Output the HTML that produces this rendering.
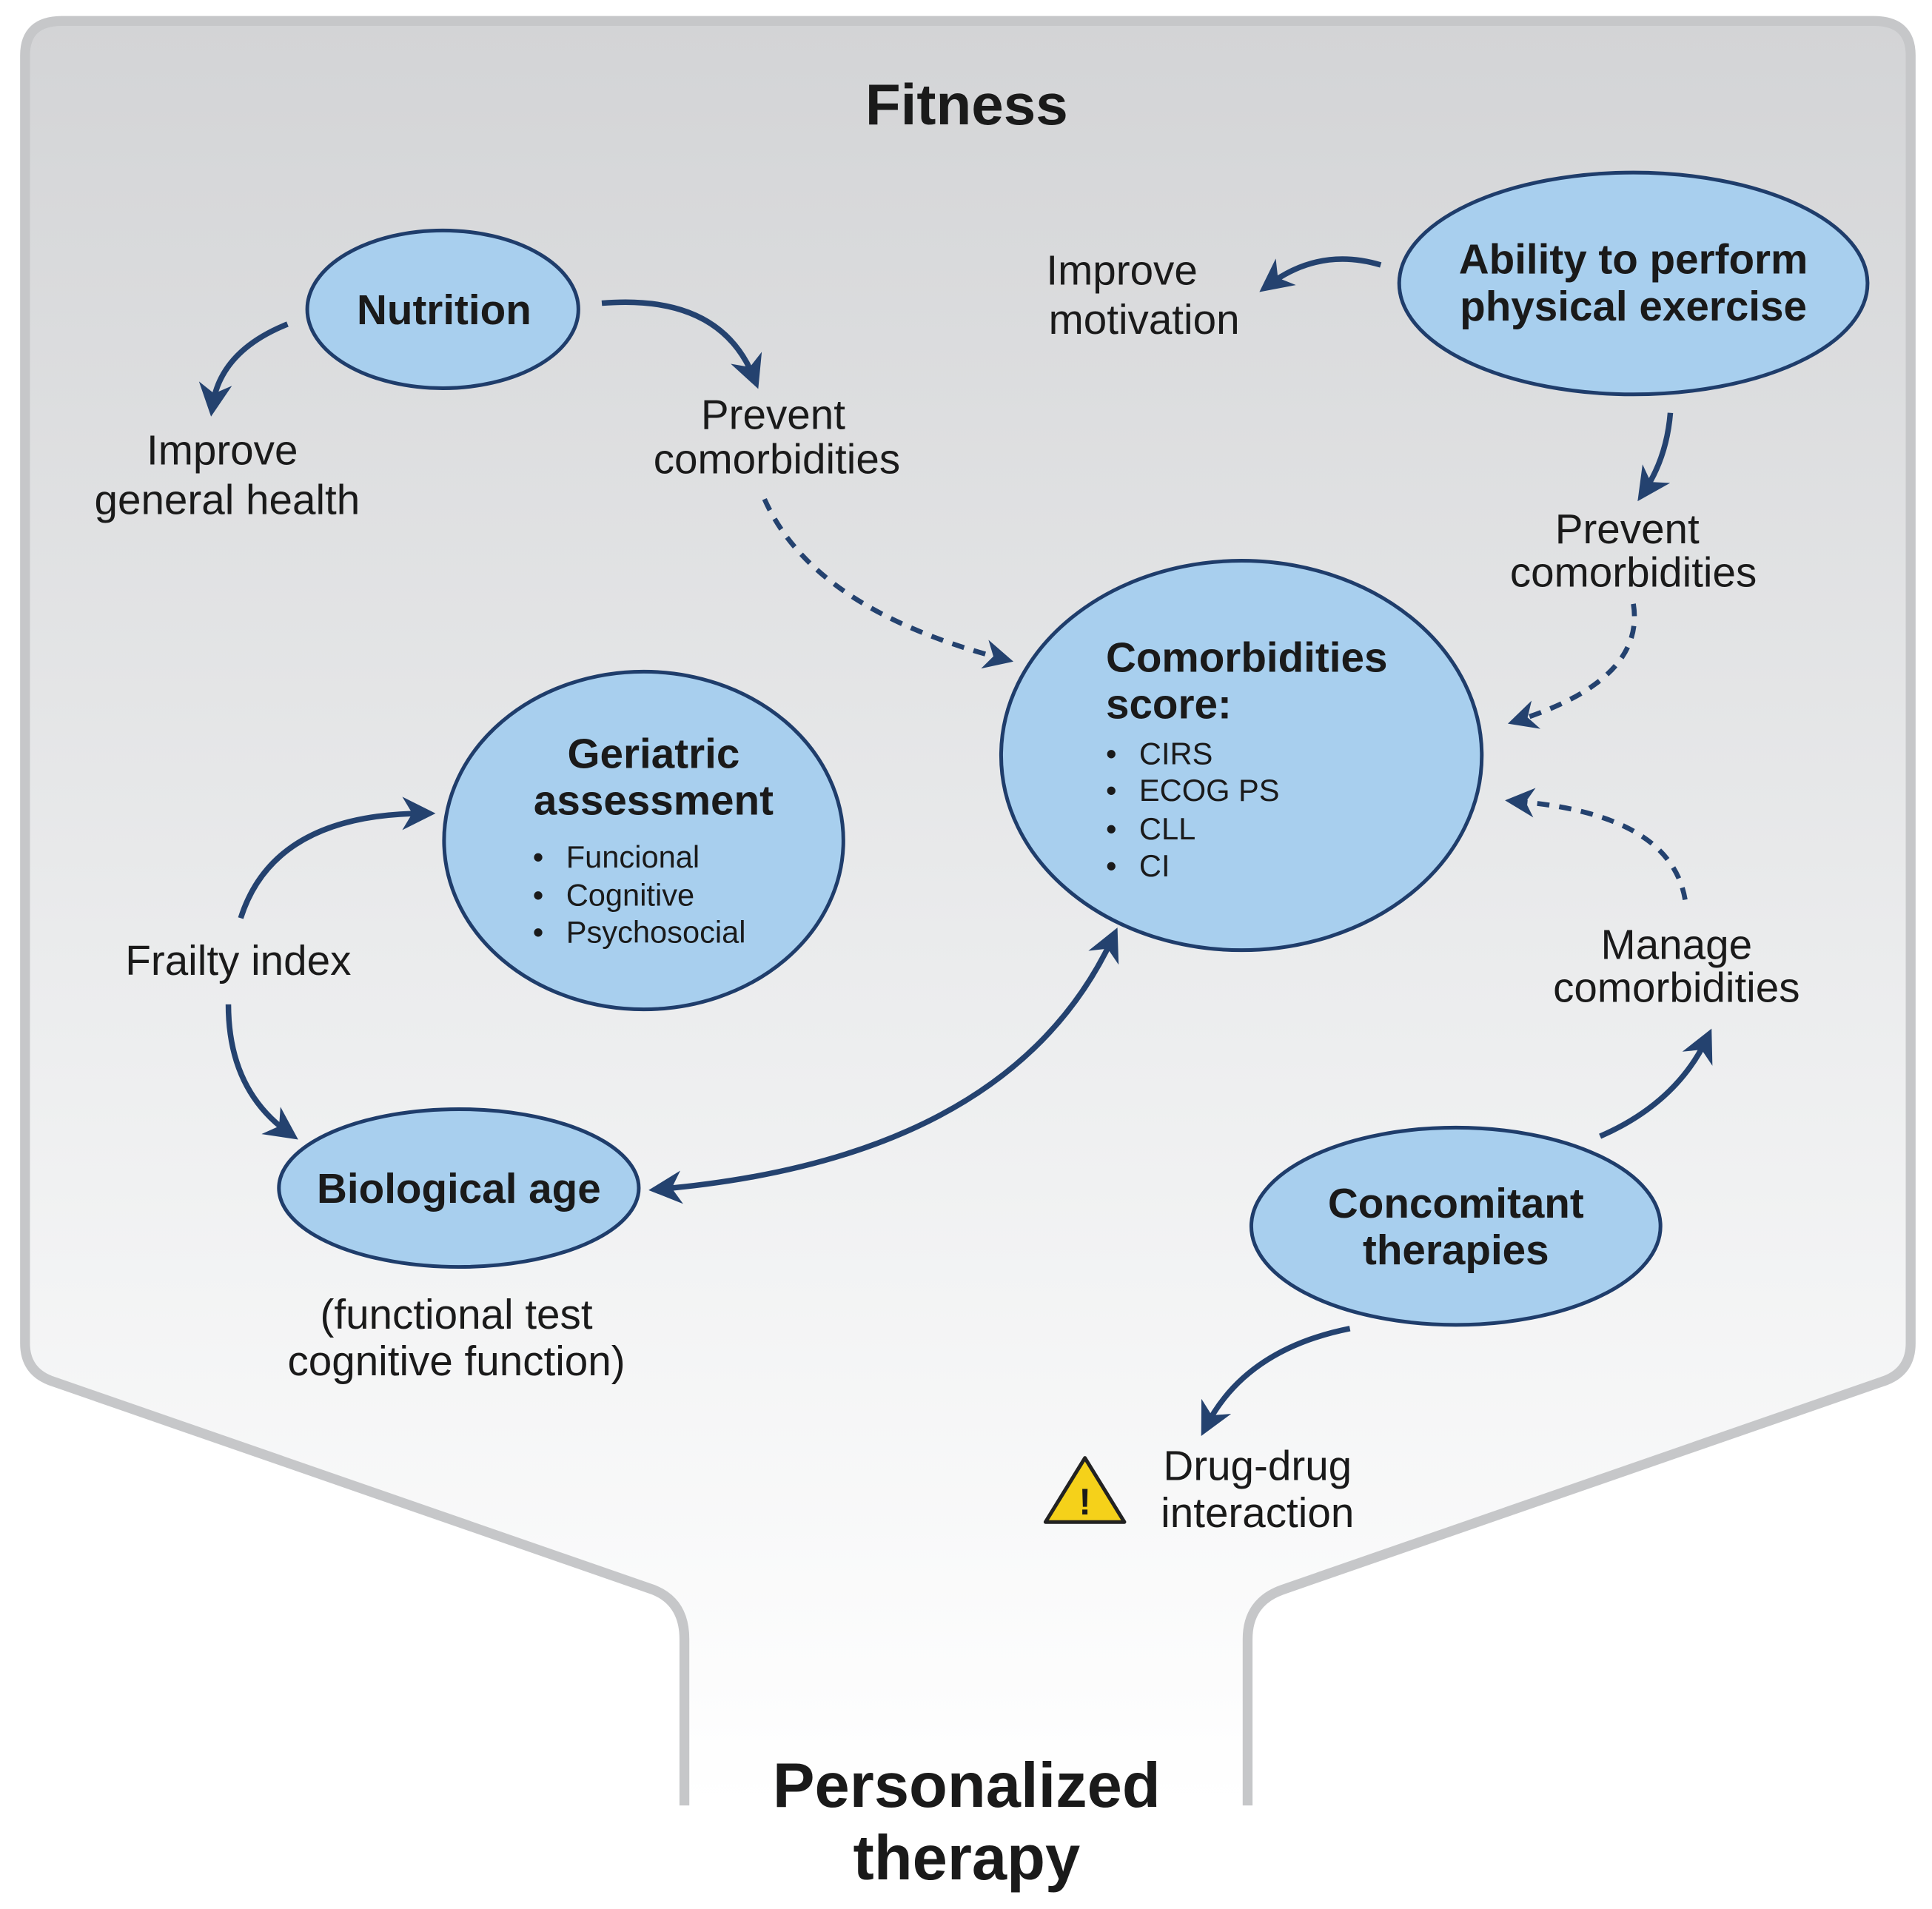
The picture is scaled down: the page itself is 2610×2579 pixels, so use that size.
<!DOCTYPE html>
<html><head><meta charset="utf-8"><style>
html,body{margin:0;padding:0;background:#fff;}
svg{display:block;}
text{font-family:"Liberation Sans",Arial,sans-serif;fill:#1a1a1a;}
.b{font-weight:bold;}
</style></head><body>
<svg width="2610" height="2579" viewBox="0 0 1567 1549" xmlns="http://www.w3.org/2000/svg">
<defs>
<linearGradient id="bg" x1="0" y1="0" x2="0" y2="1">
<stop offset="0" stop-color="#d3d4d6"/><stop offset="0.6" stop-color="#eeeff0"/><stop offset="1" stop-color="#ffffff"/>
</linearGradient>
<marker id="ah" viewBox="0 0 10 10" refX="7" refY="5" markerWidth="6" markerHeight="6" orient="auto-start-reverse" markerUnits="strokeWidth">
<path d="M0,0 L10,5 L0,10 L3,5 z" fill="#24426f"/>
</marker>
</defs>
<rect width="1567" height="1549" fill="#fff"/>
<path d="M555,1465 L555,1330 Q555,1300 530,1290 L40,1120 Q20,1112 20,1090 L20,45 Q20,17 50,17 L1520,17 Q1550,17 1550,45 L1550,1090 Q1550,1112 1530,1120 L1040,1290 Q1012,1300 1012,1330 L1012,1465 Z" fill="url(#bg)"/>
<path d="M555,1465 L555,1330 Q555,1300 530,1290 L40,1120 Q20,1112 20,1090 L20,45 Q20,17 50,17 L1520,17 Q1550,17 1550,45 L1550,1090 Q1550,1112 1530,1120 L1040,1290 Q1012,1300 1012,1330 L1012,1465" fill="none" stroke="#c6c7c9" stroke-width="8"/>

<text x="784" y="101" text-anchor="middle" class="b" font-size="47">Fitness</text>
<text x="784" y="1466" text-anchor="middle" class="b" font-size="51">Personalized</text>
<text x="784" y="1525" text-anchor="middle" class="b" font-size="51">therapy</text>

<g fill="#a8cfee" stroke="#1f3d6b" stroke-width="3">
<ellipse cx="359" cy="251" rx="110" ry="64"/>
<ellipse cx="1325" cy="230" rx="190" ry="90"/>
<ellipse cx="1007" cy="613" rx="195" ry="158"/>
<ellipse cx="522" cy="682" rx="162" ry="137"/>
<ellipse cx="372" cy="964" rx="146" ry="64"/>
<ellipse cx="1181" cy="995" rx="166" ry="80"/>
</g>

<g class="b" font-size="34" text-anchor="middle">
<text x="360" y="263" class="b">Nutrition</text>
<text x="1325" y="222" class="b">Ability to perform</text>
<text x="1325" y="260" class="b">physical exercise</text>
<text x="530" y="623" class="b">Geriatric</text>
<text x="530" y="661" class="b">assessment</text>
<text x="372" y="976" class="b">Biological age</text>
<text x="1181" y="988" class="b">Concomitant</text>
<text x="1181" y="1026" class="b">therapies</text>
</g>
<text x="897" y="545" class="b" font-size="34">Comorbidities</text>
<text x="897" y="583" class="b" font-size="34">score:</text>
<g font-size="25">
<text x="897" y="620">•</text><text x="924" y="620">CIRS</text>
<text x="897" y="650">•</text><text x="924" y="650">ECOG PS</text>
<text x="897" y="681">•</text><text x="924" y="681">CLL</text>
<text x="897" y="711">•</text><text x="924" y="711">CI</text>
<text x="432" y="704">•</text><text x="459" y="704">Funcional</text>
<text x="432" y="735">•</text><text x="459" y="735">Cognitive</text>
<text x="432" y="765">•</text><text x="459" y="765">Psychosocial</text>
</g>

<g font-size="34" text-anchor="middle">
<text x="180" y="377">Improve</text>
<text x="184" y="417">general health</text>
<text x="627" y="348">Prevent</text>
<text x="630" y="384">comorbidities</text>
<text x="910" y="231">Improve</text>
<text x="928" y="271">motivation</text>
<text x="1320" y="441">Prevent</text>
<text x="1325" y="476">comorbidities</text>
<text x="193" y="791">Frailty index</text>
<text x="1360" y="778">Manage</text>
<text x="1360" y="813">comorbidities</text>
<text x="370" y="1078">(functional test</text>
<text x="370" y="1116">cognitive function)</text>
<text x="1020" y="1201">Drug-drug</text>
<text x="1020" y="1239">interaction</text>
</g>

<g fill="none" stroke="#24426f" stroke-width="4.5" marker-end="url(#ah)">
<path d="M233,263 Q178,285 172,330"/>
<path d="M488,246 Q585,238 612,308"/>
<path d="M1120,215 Q1070,200 1028,232"/>
<path d="M1355,335 Q1352,372 1333,400"/>
<path d="M195,745 Q222,660 345,660"/>
<path d="M185,815 Q185,885 235,920"/>
<path d="M1298,922 Q1360,895 1385,842"/>
<path d="M1095,1078 Q1010,1095 978,1158"/>
<path d="M534,965 Q820,940 903,760" marker-start="url(#ah)"/>
</g>
<g fill="none" stroke="#24426f" stroke-width="4" stroke-dasharray="10,8" marker-end="url(#ah)">
<path d="M620,405 Q660,495 815,535"/>
<path d="M1325,490 Q1335,552 1230,585"/>
<path d="M1367,730 Q1355,660 1228,650"/>
</g>

<path d="M880,1183 L912,1235 L848,1235 Z" fill="#f5d11a" stroke="#222" stroke-width="3" stroke-linejoin="round"/>
<text x="880" y="1229" text-anchor="middle" class="b" font-size="30">!</text>
</svg>
</body></html>
